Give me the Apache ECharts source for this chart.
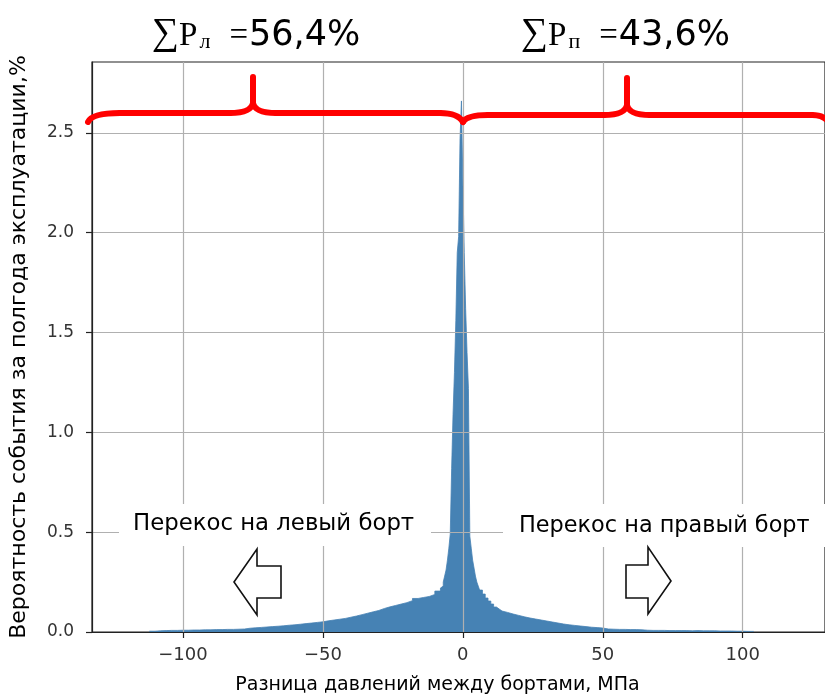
<!DOCTYPE html>
<html>
<head>
<meta charset="utf-8">
<script src="https://cdn.jsdelivr.net/npm/echarts@6/dist/echarts.min.js"></script>
<style>
  html, body { margin: 0; padding: 0; background: #fff; }
  #chart { width: 825px; height: 700px; }
</style>
</head>
<body>
<div id="chart"></div>
<script>
// histogram bins: [start, width] and heights (% per bin)
const leftStart = -112, leftWidth = 2;
const leftValues = [
  0.004, 0.006, 0.007, 0.008, 0.008, 0.009, 0.009, 0.010, 0.010, 0.011,
  0.011, 0.012, 0.012, 0.013, 0.013, 0.014, 0.015, 0.019, 0.021, 0.023,
  0.025, 0.027, 0.029, 0.031, 0.034, 0.036, 0.039, 0.042, 0.045, 0.048,
  0.051, 0.056, 0.060, 0.064, 0.068, 0.074, 0.080, 0.087, 0.094, 0.101,
  0.108, 0.118, 0.126, 0.133, 0.140, 0.147, 0.157, 0.168, 0.173, 0.178,
  0.188, 0.205
];
const centerStart = -8, centerWidth = 0.5;
const centerValues = [
  0.22, 0.23, 0.25, 0.28, 0.31, 0.36, 0.42, 0.49, 0.82, 1.09,
  1.30, 1.56, 1.90, 1.98, 2.47, 2.66, 2.27, 1.90, 1.62, 1.40,
  1.22, 0.48, 0.42, 0.36, 0.32, 0.28, 0.25, 0.23
];
const midStart = 6, midWidth = 1;
const midValues = [0.21, 0.19, 0.17, 0.155, 0.14, 0.125, 0.115, 0.105];
const rightStart = 14, rightWidth = 2;
const rightValues = [
  0.098, 0.090, 0.083, 0.076, 0.070, 0.065, 0.060, 0.055, 0.050, 0.045,
  0.040, 0.036, 0.033, 0.030, 0.027, 0.024, 0.022, 0.020, 0.015, 0.014,
  0.013, 0.013, 0.012, 0.012, 0.011, 0.009, 0.008, 0.008, 0.008, 0.007,
  0.007, 0.007, 0.007, 0.006, 0.007, 0.006, 0.006, 0.006, 0.005, 0.005,
  0.005, 0.004, 0.004, 0.003, 0.003
];

const xTicks = [-100, -50, 0, 50, 100];
const yTicks = [0, 0.5, 1.0, 1.5, 2.0, 2.5];
const sumLeft = '56,4%';
const sumRight = '43,6%';

// step points: [bin start, height], closed with the last bin's end
function bins(start, width, values) {
  return values.map((v, i) => [start + i * width, v]);
}
const histData = [].concat(
  bins(leftStart, leftWidth, leftValues),
  bins(centerStart, centerWidth, centerValues),
  bins(midStart, midWidth, midValues),
  bins(rightStart, rightWidth, rightValues)
);
histData.push([rightStart + rightValues.length * rightWidth, rightValues[rightValues.length - 1]]);

const chart = echarts.init(document.getElementById('chart'));
const font = 'DejaVu Sans';
const barColor = '#4682b4';

function sumTitle(left, sub, value) {
  const base = { color: '#000', fontWeight: 'normal', verticalAlign: 'bottom', lineHeight: 46 };
  return {
    left: left, top: 0,
    text: '{s|∑}{p|P}{sub|' + sub + '}{eq|=}{v|' + value + '}',
    textStyle: {
      rich: {
        s: Object.assign({}, base, { fontFamily: 'Liberation Serif', fontSize: 38, lineHeight: 48 }),
        p: Object.assign({}, base, { fontFamily: 'Liberation Serif', fontSize: 33 }),
        sub: Object.assign({}, base, { fontFamily: 'Liberation Serif', fontSize: 22, lineHeight: 38, padding: [0, 0, 0, 2] }),
        eq: Object.assign({}, base, { fontFamily: 'Liberation Serif', fontSize: 33, padding: [0, 1, 0, 19] }),
        v: Object.assign({}, base, { fontFamily: font, fontSize: 35 })
      }
    }
  };
}

const red = '#ff0000';
const braceStyle = { stroke: red, lineWidth: 6, fill: null, lineCap: 'round' };

// brace pieces: quadratic curves and straight lines, in pixels
function curve(x1, y1, cx, cy, x2, y2) {
  return { type: 'bezierCurve', z: 100, shape: { x1: x1, y1: y1, cpx1: cx, cpy1: cy, x2: x2, y2: y2 }, style: braceStyle };
}
function seg(x1, y1, x2, y2) {
  return { type: 'line', z: 100, shape: { x1: x1, y1: y1, x2: x2, y2: y2 }, style: braceStyle };
}
function brace(xl, xm, xr, yh, yTip, yEndL, yEndR, xlh, xrh) {
  return [
    curve(xl, yEndL, xl + 4, yh, xlh, yh),
    seg(xlh, yh, xm - 23, yh),
    curve(xm - 23, yh, xm - 2, yh, xm, yh - 10),
    seg(xm, yh - 10, xm, yTip),
    curve(xm, yh - 10, xm + 2, yh, xm + 23, yh),
    seg(xm + 23, yh, xrh, yh),
    curve(xrh, yh, xr - 5, yh, xr, yEndR)
  ];
}

chart.setOption({
  animation: false,
  title: [sumTitle(147, 'л', sumLeft), sumTitle(516, 'п', sumRight)],
  grid: {
    left: 90, right: -2, top: 62, bottom: 67,
    show: true, borderColor: '#222', borderWidth: 1.2
  },
  xAxis: {
    type: 'value',
    z: 5,
    min: -132.5, max: 129.4,
    interval: 50,
    name: 'Разница давлений между бортами, МПа',
    nameLocation: 'middle', nameGap: 44,
    nameTextStyle: { fontFamily: font, fontSize: 19, color: '#000', padding: [0, 42, 0, 0] },
    axisLine: { show: true, onZero: false, lineStyle: { color: '#222', width: 1.2 } },
    axisTick: { show: true, length: 6, customValues: xTicks, lineStyle: { color: '#222', width: 1.2 } },
    axisLabel: {
      customValues: xTicks, margin: 14,
      fontFamily: font, fontSize: 18, color: '#333',
      formatter: v => String(v).replace('-', '\u2212')
    },
    splitLine: { show: true, lineStyle: { color: '#b0b0b0', width: 1.2 } }
  },
  yAxis: {
    type: 'value',
    z: 5,
    min: 0, max: 2.855,
    interval: 0.5,
    name: 'Вероятность события за полгода эксплуатации,%',
    nameLocation: 'middle', nameGap: 62,
    nameTextStyle: { fontFamily: font, fontSize: 22, color: '#000' },
    axisLine: { show: true, onZero: false, lineStyle: { color: '#222', width: 1.2 } },
    axisTick: { show: true, length: 6, customValues: yTicks, lineStyle: { color: '#222', width: 1.2 } },
    axisLabel: {
      customValues: yTicks, margin: 18,
      fontFamily: font, fontSize: 17, color: '#333',
      formatter: v => v.toFixed(1)
    },
    splitLine: { show: true, lineStyle: { color: '#b0b0b0', width: 1.2 } }
  },
  series: [{
    type: 'line',
    z: 1,
    step: 'end',
    data: histData,
    showSymbol: false,
    symbol: 'none',
    lineStyle: { color: barColor, width: 0.8 },
    areaStyle: { color: barColor, opacity: 1, origin: 0 },
    clip: true
  }],
  graphic: [].concat(
    brace(88, 253, 463, 113, 77, 122, 122, 120, 440),
    brace(463, 627, 830, 115, 78, 122, 124, 488, 812),
    [
      // label boxes
      { type: 'rect', z: 50, shape: { x: 119, y: 504, width: 312, height: 42 }, style: { fill: '#fff' } },
      { type: 'rect', z: 50, shape: { x: 503, y: 504, width: 330, height: 43 }, style: { fill: '#fff' } },
      { type: 'text', z: 51, left: 133, top: 513, style: { text: 'Перекос на левый борт', font: '22.8px "DejaVu Sans"', fill: '#000' } },
      { type: 'text', z: 51, left: 519, top: 515, style: { text: 'Перекос на правый борт', font: '22.4px "DejaVu Sans"', fill: '#000' } },
      // arrows
      { type: 'polygon', z: 60, shape: { points: [[234, 582], [257, 549], [257, 566], [281, 566], [281, 598], [257, 598], [257, 615]] }, style: { fill: '#fff', stroke: '#111', lineWidth: 1.6 } },
      { type: 'polygon', z: 60, shape: { points: [[671, 581], [648, 547], [648, 565], [626, 565], [626, 598], [648, 598], [648, 614]] }, style: { fill: '#fff', stroke: '#111', lineWidth: 1.6 } }
    ]
  )
});
</script>
</body>
</html>
